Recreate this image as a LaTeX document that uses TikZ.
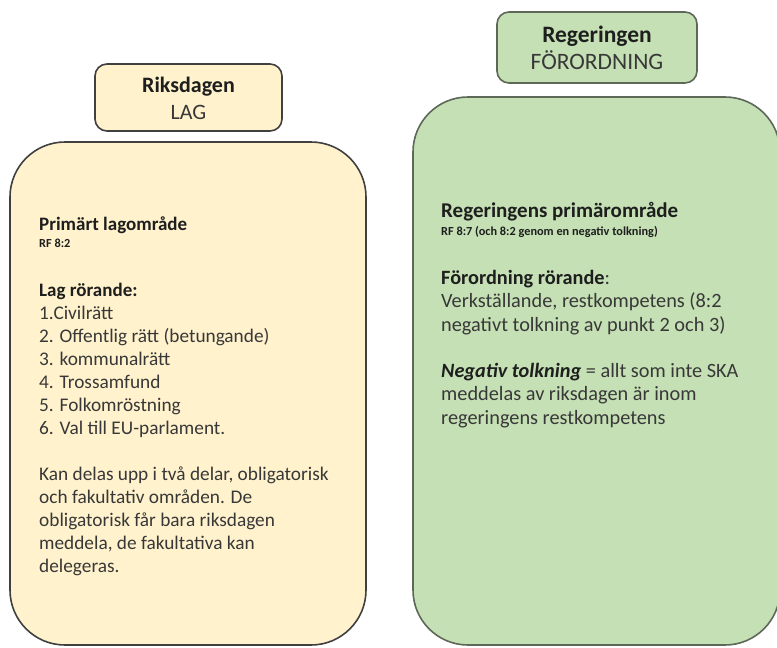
\documentclass[tikz,border=0pt]{standalone}
\usepackage{fontspec}
\setmainfont{Carlito}
\definecolor{yfill}{HTML}{FFF2CC}
\definecolor{gfill}{HTML}{C5E0B4}
\definecolor{ydraw}{HTML}{404040}
\definecolor{gdraw}{HTML}{5E6858}
\definecolor{txt}{HTML}{383838}
\definecolor{txtb}{HTML}{1E1E1E}
\tikzset{
  bigbox/.style={draw, line width=1.6pt, rounded corners=55pt, inner sep=0pt},
  titlebox/.style={draw, line width=1.6pt, rounded corners=12pt, inner sep=0pt},
  bodytext/.style={anchor=base west, inner sep=0pt, text=txt, font=\fontsize{19.3}{23}\selectfont},
  headtext/.style={anchor=base west, inner sep=0pt, text=txtb, font=\fontsize{19}{23}\selectfont\bfseries},
  smalltext/.style={anchor=base west, inner sep=0pt, text=txtb, font=\fontsize{12.3}{14}\selectfont\bfseries},
  rbodytext/.style={anchor=base west, inner sep=0pt, text=txt, font=\fontsize{20.3}{24}\selectfont},
  rheadtext/.style={anchor=base west, inner sep=0pt, text=txtb, font=\fontsize{21}{24}\selectfont\bfseries},
  titletext/.style={anchor=base, inner sep=0pt, text=txtb, font=\fontsize{22}{26}\selectfont\bfseries},
  subtitletext/.style={anchor=base, inner sep=0pt, text=txt, font=\fontsize{22}{26}\selectfont},
  rtitletext/.style={anchor=base, inner sep=0pt, text=txtb, font=\fontsize{23.5}{27}\selectfont\bfseries},
  rsubtitletext/.style={anchor=base, inner sep=0pt, text=txt, font=\fontsize{23.5}{27}\selectfont},
}
\begin{document}
\begin{tikzpicture}[x=1pt,y=-1pt]
\useasboundingbox (0,0) rectangle (777,648);
% boxes
\node[titlebox, draw=ydraw, fill=yfill, minimum width=187pt, minimum height=67pt] (riks) at (188.5,97.5) {};
\node[bigbox, draw=ydraw, fill=yfill, minimum width=356pt, minimum height=503pt] (lbox) at (188,393.5) {};
\node[titlebox, draw=gdraw, fill=gfill, minimum width=200pt, minimum height=71pt] (reg) at (597,47.5) {};
\node[bigbox, draw=gdraw, fill=gfill, minimum width=367pt, minimum height=548pt] (rbox) at (596.5,371) {};
% titles
\node[titletext] (rikst) at (188.5,92.5) {Riksdagen};
\node[subtitletext] (lag) at (188.5,119) {LAG};
\node[rtitletext] (regt) at (597,42.5) {Regeringen};
\node[rsubtitletext] (forord) at (597,69.5) {FÖRORDNING};
% left text
\node[headtext] (l1) at (39,230) {Primärt lagområde};
\node[smalltext] (l2) at (39,247) {RF 8:2};
\node[headtext] (l3) at (39,296) {Lag rörande:};
\node[bodytext] (l4) at (39,319) {1.Civilrätt};
\node[bodytext] (l5) at (39,342) {2. Offentlig rätt (betungande)};
\node[bodytext] (l6) at (39,365) {3. kommunalrätt};
\node[bodytext] (l7) at (39,388) {4. Trossamfund};
\node[bodytext] (l8) at (39,411) {5. Folkomröstning};
\node[bodytext] (l9) at (39,434) {6. Val till EU-parlament.};
\node[bodytext] (l10) at (39,480) {Kan delas upp i två delar, obligatorisk};
\node[bodytext] (l11) at (39,503) {och fakultativ områden. De};
\node[bodytext] (l12) at (39,526) {obligatorisk får bara riksdagen};
\node[bodytext] (l13) at (39,549) {meddela, de fakultativa kan};
\node[bodytext] (l14) at (39,572) {delegeras.};
% right text
\node[rheadtext] (r1) at (441,217) {Regeringens primärområde};
\node[smalltext] (r2) at (441,235) {RF 8:7 (och 8:2 genom en negativ tolkning)};
\node[rbodytext] (r3) at (441,284) {\textbf{\color{txtb}Förordning rörande}:};
\node[rbodytext] (r4) at (441,307.5) {Verkställande, restkompetens (8:2};
\node[rbodytext] (r5) at (441,331) {negativt tolkning av punkt 2 och 3)};
\node[rbodytext] (r6) at (441,377) {\textbf{\textit{\color{txtb}Negativ tolkning}} = allt som inte SKA};
\node[rbodytext] (r7) at (441,400.5) {meddelas av riksdagen är inom};
\node[rbodytext] (r8) at (441,424) {regeringens restkompetens};
\end{tikzpicture}
\end{document}
